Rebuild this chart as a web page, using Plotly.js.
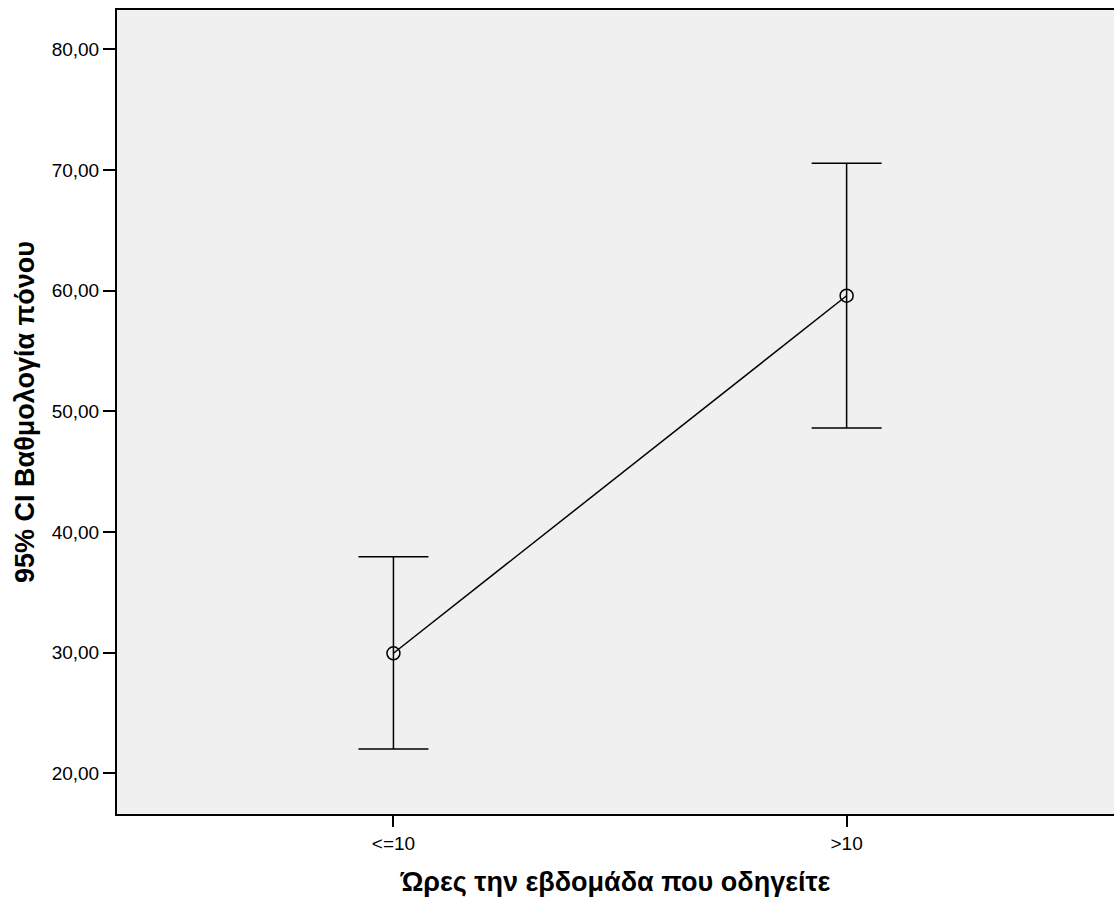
<!DOCTYPE html>
<html>
<head>
<meta charset="utf-8">
<script src="https://cdn.plot.ly/plotly-3.0.1.min.js"></script>
<style>html,body{margin:0;padding:0;background:#fff;}#chart{width:1114px;height:904px;}</style>
</head>
<body>
<div id="chart"></div>
<script>
const categories = ['<=10', '>10'];
const means = [29.95, 59.58];
const upperCI = [37.95, 70.55];
const lowerCI = [22.01, 48.62];
const yTicks = [20, 30, 40, 50, 60, 70, 80];

const xPos = categories.map((c, i) => i);
const trace = {
  x: xPos,
  y: means,
  type: 'scatter',
  mode: 'lines+markers',
  line: {color: '#000', width: 1.5},
  marker: {symbol: 'circle-open', size: 13, color: '#000', line: {width: 1.5, color: '#000'}},
  error_y: {
    type: 'data', symmetric: false,
    array: upperCI.map((u, i) => u - means[i]),
    arrayminus: means.map((m, i) => m - lowerCI[i]),
    color: '#000', thickness: 1.5, width: 35
  },
  hoverinfo: 'none'
};

const font = 'Arial, "Liberation Sans", sans-serif';
const layout = {
  width: 1114, height: 904,
  margin: {l: 117, r: 0, t: 10, b: 90},
  paper_bgcolor: '#fff',
  plot_bgcolor: '#f0f0f0',
  separators: ', ',
  showlegend: false,
  font: {family: font, color: '#000', size: 19},
  xaxis: {
    range: [-0.61, 1.59],
    tickvals: xPos, ticktext: categories,
    ticks: 'outside', ticklen: 11, tickwidth: 2, tickcolor: '#000',
    showline: true, linecolor: '#000', linewidth: 2, mirror: true,
    showgrid: false, zeroline: false,
    tickfont: {size: 19, family: font, color: '#000'},
    title: {text: 'Ώρες την εβδομάδα που οδηγείτε', font: {size: 27, family: font, color: '#000', weight: 'bold'}, standoff: 19}
  },
  yaxis: {
    range: [16.63, 83.26],
    tickvals: yTicks, tickformat: '.2f',
    ticks: 'outside', ticklen: 12, tickwidth: 2, tickcolor: '#000',
    showline: true, linecolor: '#000', linewidth: 2,
    showgrid: false, zeroline: false,
    tickfont: {size: 19, family: font, color: '#000'},
    title: {text: '95% CI Βαθμολογία πόνου', font: {size: 27, family: font, color: '#000', weight: 'bold'}, standoff: 9}
  }
};
Plotly.newPlot('chart', [trace], layout, {staticPlot: true});
</script>
</body>
</html>
